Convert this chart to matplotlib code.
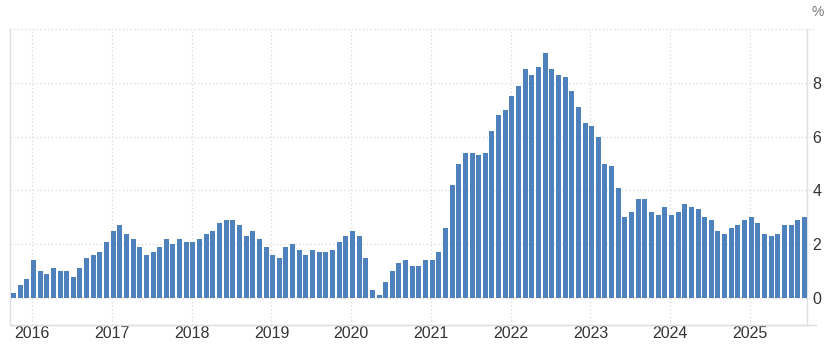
import matplotlib.pyplot as plt

plt.rcParams['font.family'] = ['Liberation Sans', 'DejaVu Sans']

# monthly inflation rate, Oct 2015 .. Sep 2025 (%)
start_month = -3  # months relative to Jan 2016
inflation = [
    0.2, 0.5, 0.7,
    1.4, 1.0, 0.9, 1.1, 1.0, 1.0, 0.8, 1.1, 1.5, 1.6, 1.7, 2.1,
    2.5, 2.7, 2.4, 2.2, 1.9, 1.6, 1.7, 1.9, 2.2, 2.0, 2.2, 2.1,
    2.1, 2.2, 2.4, 2.5, 2.8, 2.9, 2.9, 2.7, 2.3, 2.5, 2.2, 1.9,
    1.6, 1.5, 1.9, 2.0, 1.8, 1.6, 1.8, 1.7, 1.7, 1.8, 2.1, 2.3,
    2.5, 2.3, 1.5, 0.3, 0.1, 0.6, 1.0, 1.3, 1.4, 1.2, 1.2, 1.4,
    1.4, 1.7, 2.6, 4.2, 5.0, 5.4, 5.4, 5.3, 5.4, 6.2, 6.8, 7.0,
    7.5, 7.9, 8.5, 8.3, 8.6, 9.1, 8.5, 8.3, 8.2, 7.7, 7.1, 6.5,
    6.4, 6.0, 5.0, 4.9, 4.1, 3.0, 3.2, 3.7, 3.7, 3.2, 3.1, 3.4,
    3.1, 3.2, 3.5, 3.4, 3.3, 3.0, 2.9, 2.5, 2.4, 2.6, 2.7, 2.9,
    3.0, 2.8, 2.4, 2.3, 2.4, 2.7, 2.7, 2.9, 3.0,
]
years = [2016, 2017, 2018, 2019, 2020, 2021, 2022, 2023, 2024, 2025]
y_ticks = [0, 2, 4, 6, 8]

months = list(range(start_month, start_month + len(inflation)))
year_pos = [12 * (y - 2016) - 0.18 for y in years]

fig = plt.figure(figsize=(8.4, 3.51), dpi=100)
ax = fig.add_axes([9.5 / 840, 1 - 325 / 351, (807 - 9.5) / 840, (325 - 29) / 351])

ax.bar(months, inflation, width=0.75, color='#4f81bd', zorder=3)

ax.set_xlim(-3.6, 116.4)
ax.set_ylim(-1, 10)

grid_kw = dict(color='#d9d9d9', lw=0.9, ls=(0, (1, 2)), zorder=1)
ext = (816 - 9.5) / (807 - 9.5)
for y in y_ticks + [10]:
    ax.axhline(y, xmin=0, xmax=ext, clip_on=False, **grid_kw)
for x in year_pos:
    ax.axvline(x, **grid_kw)

ax.set_xticks(year_pos)
ax.set_xticklabels([str(y) for y in years])
ax.set_yticks(y_ticks)
ax.set_yticklabels([str(v) for v in y_ticks])
ax.yaxis.tick_right()
ax.tick_params(axis='both', length=0, labelsize=11.5, colors='#333333')
ax.tick_params(axis='x', pad=1)
ax.tick_params(axis='y', pad=4)

for side in ['left', 'right', 'bottom']:
    ax.spines[side].set_color('#e0e0e0')
    ax.spines[side].set_linewidth(1.0)
ax.spines['top'].set_visible(False)
ax.axhline(-1, xmin=0, xmax=ext, clip_on=False, color='#e0e0e0', lw=1.0)

fig.text(818 / 840, 1 - 12 / 351, '%', ha='center', va='center', fontsize=10, color='#777777')

fig.savefig('out.png', dpi=100)
